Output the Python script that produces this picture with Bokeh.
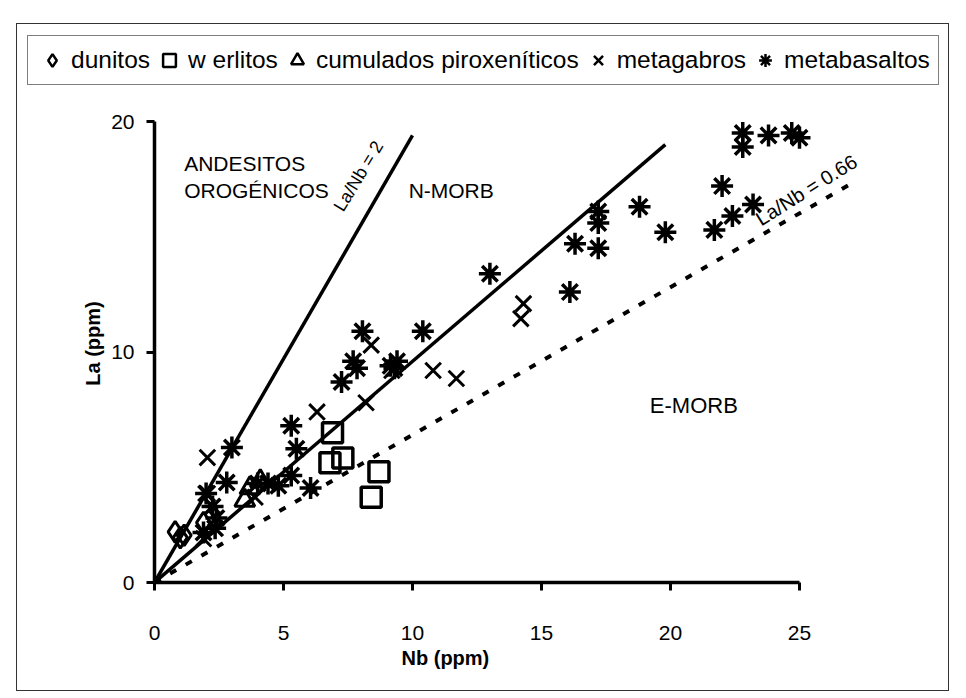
import math
from bokeh.plotting import figure
from bokeh.layouts import column
from bokeh.models import Legend, LegendItem, FixedTicker, Range1d, Label, Title
from bokeh.embed import file_html
from bokeh.resources import INLINE

# ---------------- data ----------------
dunitos_nb = [0.8, 1.0, 1.15, 1.9]
dunitos_la = [2.2, 1.95, 2.05, 2.6]

werlitos_nb = [6.9, 6.8, 7.3, 8.7, 8.4]
werlitos_la = [6.5, 5.2, 5.4, 4.8, 3.7]

cumulados_nb = [3.5, 3.7, 4.1]
cumulados_la = [3.56, 4.1, 4.4]

metagabros_nb = [1.9, 2.05, 2.05, 3.9, 6.3, 8.2, 8.4, 9.2, 10.8, 11.7, 14.2, 14.3]
metagabros_la = [1.9, 3.86, 5.42, 3.7, 7.4, 7.8, 10.3, 9.2, 9.2, 8.85, 11.45, 12.1]

metabasaltos_nb = [1.9, 2.35, 2.4, 2.25, 2.0, 2.8, 3.0, 4.0, 4.4, 4.8, 5.3, 5.5, 5.3, 6.05,
                   7.25, 7.7, 7.85, 8.06, 9.15, 9.4, 9.3, 10.4, 13.0, 16.1, 16.3, 17.2, 17.2,
                   17.2, 18.8, 19.8, 21.7, 22.0, 22.4, 23.2, 22.8, 22.8, 23.8, 24.7, 25.0]
metabasaltos_la = [2.17, 2.35, 2.8, 3.3, 3.86, 4.34, 5.86, 4.3, 4.3, 4.2, 4.64, 5.8, 6.8, 4.1,
                   8.7, 9.6, 9.3, 10.9, 9.4, 9.6, 9.3, 10.9, 13.4, 12.6, 14.7, 16.1, 15.6,
                   14.5, 16.3, 15.2, 15.3, 17.2, 15.9, 16.4, 19.5, 18.9, 19.4, 19.5, 19.3]

# reference lines (Nb, La) end points
line_andesite_nb = [0, 10.0]
line_andesite_la = [0, 19.4]
line_nmorb_nb = [0, 19.8]
line_nmorb_la = [0, 19.0]
line_emorb_nb = [0, 27.0]
line_emorb_la = [0, 17.3]

x_ticks = [0, 5, 10, 15, 20, 25]
y_ticks = [0, 10, 20]

legend_labels = ["dunitos", "w erlitos", "cumulados piroxeníticos", "metagabros", "metabasaltos"]

FONT = "Liberation Sans"

styles = {
    "dunitos": dict(marker="diamond", size=21, fill_color=None, line_color="black", line_width=3),
    "werlitos": dict(marker="square", size=20, fill_color=None, line_color="black", line_width=3.5),
    "cumulados": dict(marker="triangle", size=20, fill_color=None, line_color="black", line_width=3),
    "metagabros": dict(marker="x", size=22, line_color="black", line_width=3),
    "metabasaltos": dict(marker="asterisk", size=22, line_color="black", line_width=3.5),
}

# ---------------- main plot ----------------
p = figure(width=931, height=596, output_backend="svg", toolbar_location=None,
           x_range=Range1d(0, 28.14), y_range=Range1d(0, 20.74),
           min_border_left=137, min_border_right=68, min_border_top=10, min_border_bottom=108,
           outline_line_color=None)
p.frame_align = False
p.grid.visible = False

for ax, ticks, bnds in ((p.xaxis[0], x_ticks, (0, 25)), (p.yaxis[0], y_ticks, (0, 20))):
    ax.ticker = FixedTicker(ticks=ticks)
    ax.bounds = bnds
    ax.axis_line_width = 3.5
    ax.axis_line_color = "black"
    ax.major_tick_line_width = 3
    ax.major_tick_line_color = "black"
    ax.major_tick_out = 8
    ax.major_tick_in = 0
    ax.minor_tick_line_color = None
    ax.major_label_text_font = FONT
    ax.major_label_text_font_size = "21px"
    ax.major_label_text_color = "black"
    ax.major_label_standoff = 12
p.xaxis.major_label_standoff = 35

p.yaxis.axis_label = "La (ppm)"
p.yaxis.axis_label_text_font = FONT
p.yaxis.axis_label_text_font_size = "20px"
p.yaxis.axis_label_text_font_style = "bold"
p.yaxis.axis_label_text_color = "black"
p.yaxis.axis_label_standoff = 4

p.add_layout(Title(text="Nb (ppm)", align="left", offset=247, standoff=4,
                   text_font=FONT, text_font_size="20px", text_font_style="bold",
                   text_color="black"), "below")

p.line(line_andesite_nb, line_andesite_la, line_color="black", line_width=3.5)
p.line(line_nmorb_nb, line_nmorb_la, line_color="black", line_width=3.5)
p.line(line_emorb_nb, line_emorb_la, line_color="black", line_width=4, line_dash="7 11")

p.scatter(dunitos_nb, dunitos_la, **styles["dunitos"])
p.scatter(werlitos_nb, werlitos_la, **styles["werlitos"])
p.scatter(cumulados_nb, cumulados_la, **styles["cumulados"])
p.scatter(metagabros_nb, metagabros_la, **styles["metagabros"])
p.scatter(metabasaltos_nb, metabasaltos_la, **styles["metabasaltos"])

txt = dict(text_font=FONT, text_font_size="21px", text_color="black")
p.add_layout(Label(x=1.15, y=18.7, text="ANDESITOS", text_baseline="top", **txt))
p.add_layout(Label(x=1.15, y=17.5, text="OROGÉNICOS", text_baseline="top", **txt))
p.add_layout(Label(x=9.85, y=17.0, text="N-MORB", text_baseline="middle", **txt))
p.add_layout(Label(x=19.2, y=7.7, text="E-MORB", text_baseline="middle",
                   text_font=FONT, text_font_size="22px", text_color="black"))
p.add_layout(Label(x=7.45, y=15.95, text="La/Nb = 2", angle=math.radians(58.8),
                   text_font=FONT, text_font_size="18px", text_baseline="bottom",
                   text_color="black"))
p.add_layout(Label(x=23.6, y=15.3, text="La/Nb = 0.66", angle=math.radians(32),
                   text_font=FONT, text_font_size="20px", text_baseline="bottom",
                   text_color="black"))

# ---------------- legend strip ----------------
lf = figure(width=931, height=70, output_backend="svg", toolbar_location=None,
            x_range=Range1d(0, 1), y_range=Range1d(0, 1),
            x_axis_type=None, y_axis_type=None,
            min_border_left=0, min_border_right=0, min_border_top=0, min_border_bottom=0,
            outline_line_color=None)
lf.frame_align = False
keys = ["dunitos", "werlitos", "cumulados", "metagabros", "metabasaltos"]
items = []
for key, lab in zip(keys, legend_labels):
    st = dict(styles[key])
    st["line_width"] = 2.5
    r = lf.scatter([-5], [-5], **st)
    items.append(LegendItem(label=lab, renderers=[r]))

legend = Legend(items=items, orientation="horizontal", location=(10, 9))
legend.label_text_font = FONT
legend.label_text_font_size = "24.5px"
legend.label_text_color = "black"
legend.border_line_color = "black"
legend.border_line_width = 1.2
legend.background_fill_alpha = 1
legend.padding = 8
legend.spacing = 3
legend.glyph_width = 32
legend.glyph_height = 32
legend.label_standoff = 3
legend.margin = 0
lf.add_layout(legend, "center")

layout = column(lf, p, spacing=0)
layout.margin = (24, 0, 0, 17)
layout.styles = {"outline": "1px solid #333"}

open("out.html", "w").write(file_html(layout, INLINE))
